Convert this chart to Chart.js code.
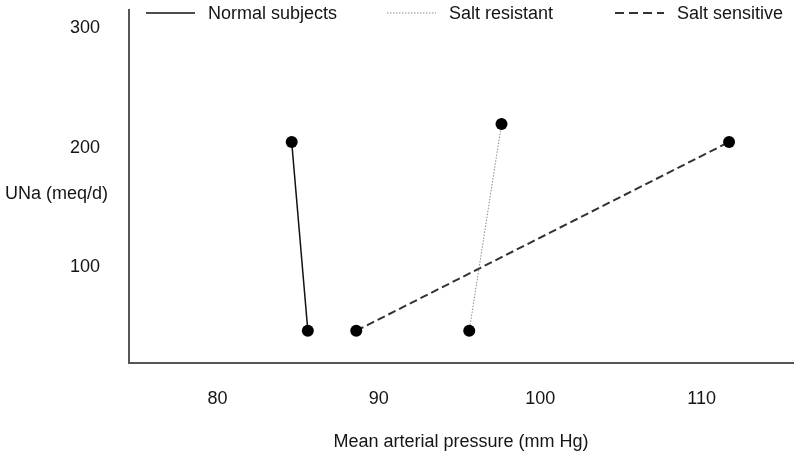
<!DOCTYPE html>
<html>
<head>
<meta charset="utf-8">
<script src="https://cdn.jsdelivr.net/npm/chart.js@4.4.1/dist/chart.umd.min.js"></script>
<style>
  html, body { margin: 0; padding: 0; background: #fff; }
  #wrap { width: 800px; height: 459px; }
</style>
</head>
<body>
<div id="wrap"><canvas id="chart"></canvas></div>
<script>
// Series (mean arterial pressure, UNa)
const seriesNames = ["Normal subjects", "Salt resistant", "Salt sensitive"];
const normalX = [84.6, 85.6];
const normalY = [205, 47];
const resistantX = [95.6, 97.6];
const resistantY = [47, 220];
const sensitiveX = [88.6, 111.7];
const sensitiveY = [47, 205];

// Axis ticks
const xTicks = [80, 90, 100, 110];
const yTicks = [100, 200, 300];

const FONT = "'Liberation Sans', Arial, sans-serif";
const TEXT = "#151515";

function toPoints(xs, ys) {
  return xs.map((x, i) => ({ x: x, y: ys[i] }));
}

// Legend drawn across the top, line sample + label
const topLegend = {
  id: "topLegend",
  afterDraw(chart) {
    const ctx = chart.ctx;
    const starts = [146, 387, 615];
    ctx.save();
    ctx.font = "18px " + FONT;
    ctx.textBaseline = "middle";
    chart.data.datasets.forEach((ds, i) => {
      const x0 = starts[i], y = 13;
      ctx.beginPath();
      ctx.strokeStyle = ds.borderColor;
      ctx.lineWidth = ds.borderWidth;
      ctx.setLineDash(ds.legendDash || []);
      ctx.moveTo(x0, y);
      ctx.lineTo(x0 + 49, y);
      ctx.stroke();
      ctx.setLineDash([]);
      ctx.fillStyle = TEXT;
      ctx.fillText(ds.label, x0 + 62, y + 1);
    });
    ctx.restore();
  }
};

// Horizontal y-axis caption on the left
const yCaption = {
  id: "yCaption",
  afterDraw(chart) {
    const ctx = chart.ctx;
    ctx.save();
    ctx.font = "18px " + FONT;
    ctx.fillStyle = TEXT;
    ctx.textBaseline = "middle";
    ctx.textAlign = "left";
    ctx.fillText("UNa (meq/d)", 5, 194);
    ctx.restore();
  }
};

const ctx = document.getElementById("chart").getContext("2d");
new Chart(ctx, {
  type: "scatter",
  data: {
    datasets: [
      {
        label: seriesNames[0],
        data: toPoints(normalX, normalY),
        showLine: true,
        borderColor: "#111",
        borderWidth: 1.5,
        backgroundColor: "#000",
        pointRadius: 6,
        pointBorderWidth: 0
      },
      {
        label: seriesNames[1],
        data: toPoints(resistantX, resistantY),
        showLine: true,
        borderColor: "#8a8a8a",
        borderWidth: 1,
        borderDash: [1.5, 1.5],
        legendDash: [1.5, 1.5],
        backgroundColor: "#000",
        pointRadius: 6,
        pointBorderWidth: 0
      },
      {
        label: seriesNames[2],
        data: toPoints(sensitiveX, sensitiveY),
        showLine: true,
        borderColor: "#333",
        borderWidth: 2,
        borderDash: [8, 4],
        legendDash: [9, 5],
        backgroundColor: "#000",
        pointRadius: 6,
        pointBorderWidth: 0
      }
    ]
  },
  options: {
    responsive: true,
    maintainAspectRatio: false,
    animation: false,
    layout: { padding: { left: 0, right: 7, top: 10, bottom: 0 } },
    plugins: {
      legend: { display: false },
      tooltip: { enabled: false }
    },
    scales: {
      x: {
        type: "linear",
        min: 74.52,
        max: 115.66,
        afterBuildTicks: s => { s.ticks = xTicks.map(v => ({ value: v })); },
        afterFit: s => { s.height = 96; },
        grid: { display: false, drawTicks: false },
        border: { display: true, color: "#555", width: 2 },
        ticks: { padding: 25, color: TEXT, font: { family: FONT, size: 18 } },
        title: {
          display: true,
          text: "Mean arterial pressure (mm Hg)",
          color: TEXT,
          font: { family: FONT, size: 18 },
          padding: { top: 0, bottom: 6 }
        }
      },
      y: {
        type: "linear",
        min: 20,
        max: 315.5,
        afterBuildTicks: s => { s.ticks = yTicks.map(v => ({ value: v })); },
        afterFit: s => { s.width = 129; s.paddingTop = 0; s.paddingBottom = 0; },
        grid: { display: false, drawTicks: false },
        border: { display: true, color: "#555", width: 2 },
        ticks: { padding: 29, color: TEXT, font: { family: FONT, size: 18 } }
      }
    }
  },
  plugins: [topLegend, yCaption]
});
</script>
</body>
</html>
